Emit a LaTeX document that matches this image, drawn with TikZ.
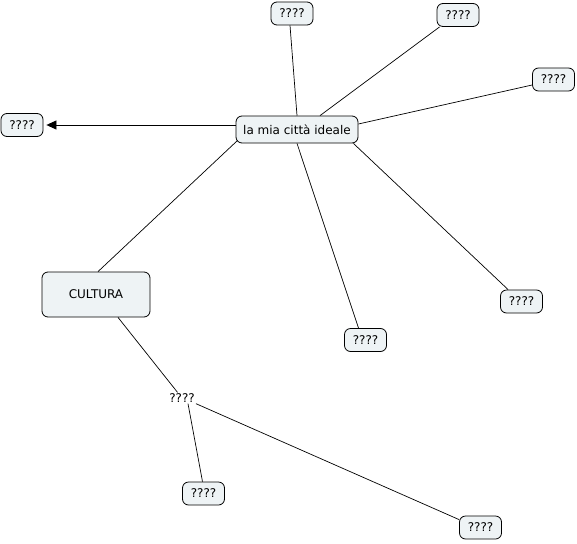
\documentclass[tikz,border=0pt]{standalone}
\usepackage{fontspec}
\setmainfont{DejaVu Sans}
\usetikzlibrary{arrows.meta}
\definecolor{boxfill}{HTML}{EEF3F5}
\begin{document}
\begin{tikzpicture}[x=1pt,y=-1pt,
  concept/.style={draw=black, line width=0.8pt, fill=boxfill, rounded corners=6pt,
    inner sep=0pt, font=\fontsize{12}{14}\selectfont},
  small/.style={concept, minimum width=42pt, minimum height=23pt},
  linkph/.style={inner sep=1pt, font=\fontsize{12}{14}\selectfont},
  conn/.style={line width=0.7pt, black}]
\useasboundingbox (0,0) rectangle (577,543);
\node[concept, minimum width=122pt, minimum height=27pt] (main) at (297,129.5) {la mia città ideale};
\node[small] (left) at (22,125) {????};
\node[small] (t1) at (292,13.5) {????};
\node[small] (t2) at (458,15) {????};
\node[small] (t3) at (553.5,79.5) {????};
\node[small] (r) at (521.5,301.5) {????};
\node[small] (m) at (365.5,340) {????};
\node[concept, minimum width=108pt, minimum height=45pt] (cult) at (96,294.5) {CULTURA};
\node[linkph] (lp) at (182,398) {????};
\node[small] (b1) at (203.5,493.5) {????};
\node[small] (b2) at (480.5,527.5) {????};

\draw[conn, -{Triangle[length=10pt,width=9pt]}, shorten >=3pt] ([yshift=4.5pt]main.west) -- ([yshift=0pt]left.east);
\draw[conn] (main.north) -- ([xshift=-2pt]t1.south);
\draw[conn] ([xshift=23pt]main.north) -- ([xshift=3pt]t2.south west);
\draw[conn] ([yshift=5.5pt]main.east) -- ([yshift=-5.5pt]t3.west);
\draw[conn] ([xshift=-5pt]main.south east) -- ([xshift=8pt]r.north west);
\draw[conn] (main.south) -- ([xshift=-7pt]m.north);
\draw[conn] ([xshift=2pt,yshift=3pt]main.south west) -- ([xshift=2pt]cult.north);
\draw[conn] ([xshift=22pt]cult.south) -- (lp);
\draw[conn] ([xshift=6pt]lp.south) -- ([xshift=-1pt]b1.north);
\draw[conn] (lp.south east) -- ([yshift=-4pt]b2.north west);
\end{tikzpicture}
\end{document}
